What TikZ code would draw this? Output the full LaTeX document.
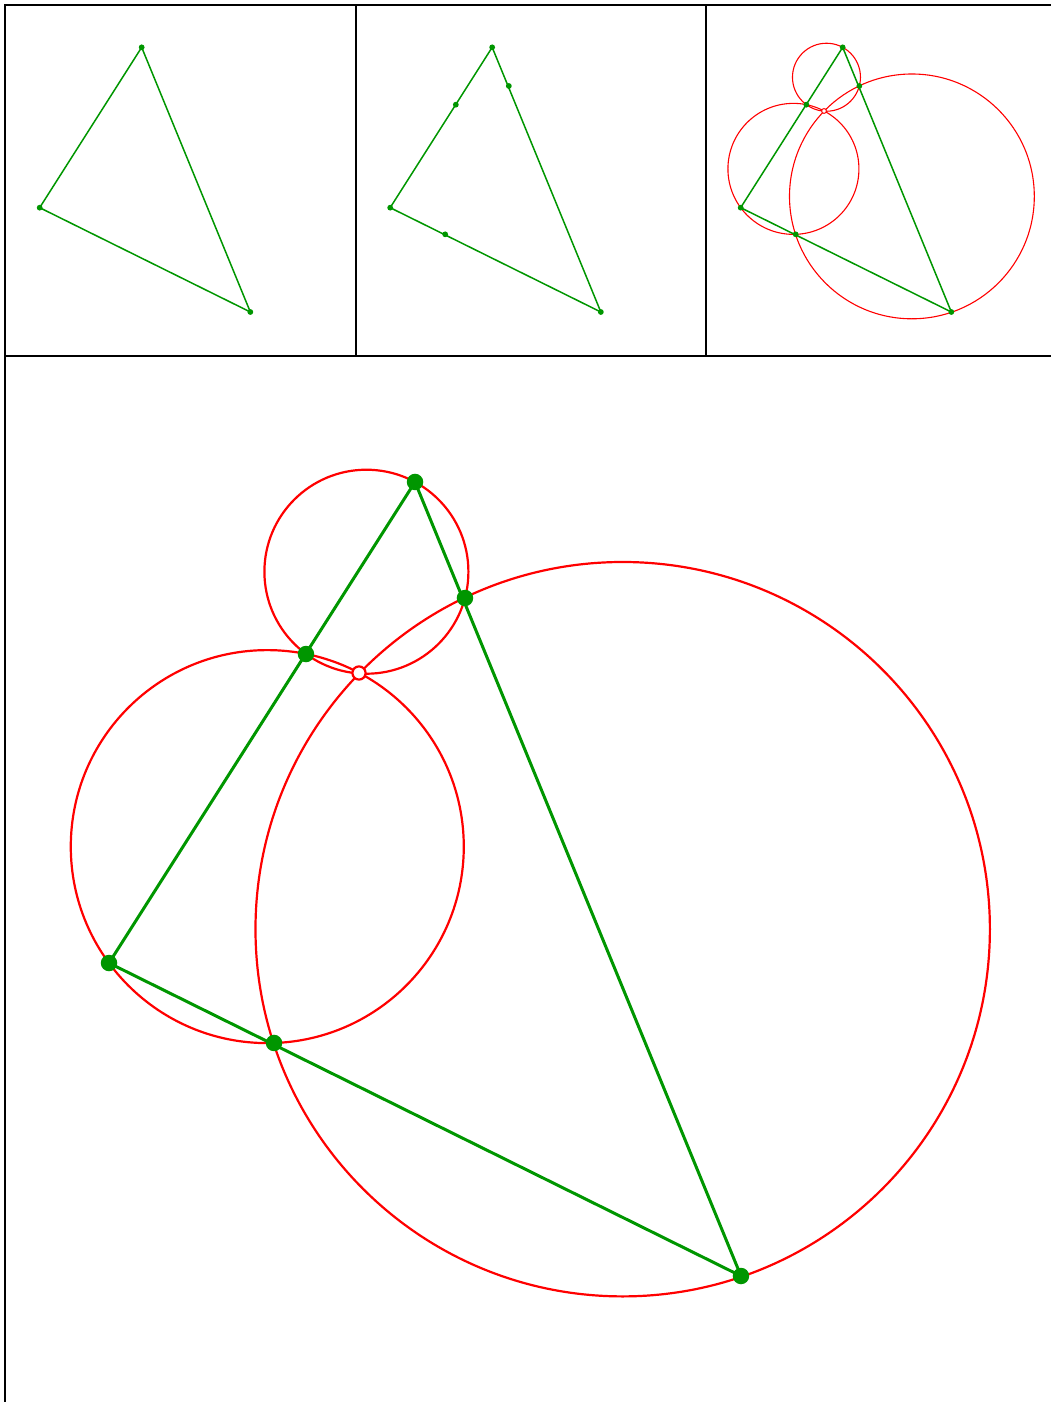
\documentclass[tikz,border=0pt]{standalone}
\usepackage{tikz}
\usepackage{xcolor}
\definecolor{sidegreen}{RGB}{0,150,0}
\definecolor{circred}{RGB}{255,0,0}

% triangle, side points, circle centres and Miquel point of one panel
\newcommand{\miqpoints}[1]{%
  \coordinate (A#1) at (136.67,42.33);
  \coordinate (B#1) at (34.67,202.67);
  \coordinate (C#1) at (245.33,307);
  \coordinate (D#1) at (100.33,99.67);
  \coordinate (E#1) at (153.33,81);
  \coordinate (F#1) at (89.67,229.33);
  \coordinate (M#1) at (118,106);
  \coordinate (Oa#1) at (120.47,72.24);
  \coordinate (Ob#1) at (87.43,163.87);
  \coordinate (Oc#1) at (205.9,191.4);
}

\begin{document}
\begin{tikzpicture}[x=1pt, y=-1pt,
  frame/.style={draw=black, line width=2pt},
  sidethin/.style={draw=sidegreen, line width=1.5pt, line join=round},
  sidethick/.style={draw=sidegreen, line width=3pt, line join=round},
  circthin/.style={draw=circred, line width=1.1pt},
  circthick/.style={draw=circred, line width=2.2pt},
  ptdot/.style={fill=sidegreen},
  miqthin/.style={draw=circred, fill=white, line width=1pt},
  miqthick/.style={draw=circred, fill=white, line width=2.2pt},
]
\useasboundingbox (0,0) rectangle (1050,1402);

% Panel 1: triangle
\begin{scope}[shift={(5,5)}]
  \miqpoints{1}
  \draw[sidethin] (A1) -- (B1) -- (C1) -- cycle;
  \foreach \p in {A,B,C} {
    \fill[ptdot] (\p1) circle[radius=2.9];
  }
\end{scope}

% Panel 2: points on the sides
\begin{scope}[shift={(355.5,5)}]
  \miqpoints{2}
  \draw[sidethin] (A2) -- (B2) -- (C2) -- cycle;
  \foreach \p in {A,B,C,D,E,F} {
    \fill[ptdot] (\p2) circle[radius=2.9];
  }
\end{scope}

% Panel 3: the three circles
\begin{scope}[shift={(706,5)}]
  \miqpoints{3}
  \draw[circthin] (Oa3) circle[radius=34.0];
  \draw[circthin] (Ob3) circle[radius=65.5];
  \draw[circthin] (Oc3) circle[radius=122.4];
  \draw[sidethin] (A3) -- (B3) -- (C3) -- cycle;
  \foreach \p in {A,B,C,D,E,F} {
    \fill[ptdot] (\p3) circle[radius=2.9];
  }
  \draw[miqthin] (M3) circle[radius=2.4];
\end{scope}

% Large panel
\begin{scope}[shift={(5,355)}, scale=3]
  \miqpoints{4}
  \draw[circthick] (Oa4) circle[radius=34.0];
  \draw[circthick] (Ob4) circle[radius=65.5];
  \draw[circthick] (Oc4) circle[radius=122.4];
  \draw[sidethick] (A4) -- (B4) -- (C4) -- cycle;
  \foreach \p in {A,B,C,D,E,F} {
    \fill[ptdot] (\p4) circle[radius=2.75];
  }
  \draw[miqthick] (M4) circle[radius=2.2];
\end{scope}

% Frames
\draw[frame] (5,5) rectangle (355.5,355.5);
\draw[frame] (355.5,5) rectangle (706,355.5);
\draw[frame] (706,5) rectangle (1056.5,355.5);
\draw[frame] (5,355.5) rectangle (1056.5,1406.5);

\end{tikzpicture}
\end{document}
